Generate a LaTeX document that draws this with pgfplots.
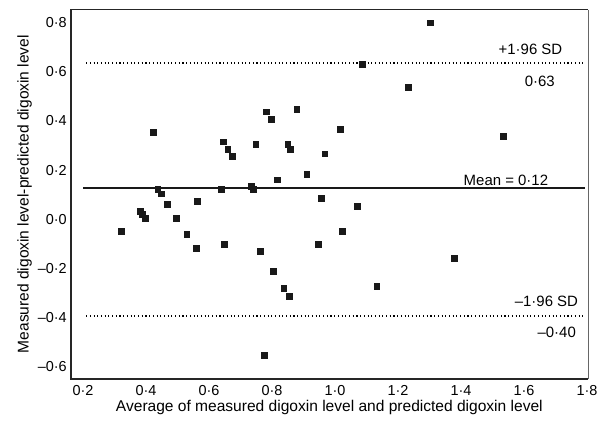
\documentclass[border=0pt]{standalone}
\usepackage{fontspec}
\setmainfont{Liberation Sans}
\usepackage{pgfplots}
\pgfplotsset{compat=1.18}

\newcommand{\tickfont}{\fontsize{14.5}{17}\selectfont}
\newcommand{\lblfont}{\fontsize{15.6}{18}\selectfont}
\newcommand{\txtfont}{\fontsize{15}{18}\selectfont}

\begin{document}
\begin{tikzpicture}
\begin{axis}[
  scale only axis,
  width=517bp, height=369bp,
  xmin=0.161, xmax=1.803, ymin=-0.655, ymax=0.847,
  xtick={0.2,0.4,0.6,0.8,1.0,1.2,1.4,1.6,1.8},
  xticklabels={0·2,0·4,0·6,0·8,1·0,1·2,1·4,1·6,1·8},
  ytick={-0.6,-0.4,-0.2,0,0.2,0.4,0.6,0.8},
  yticklabels={–0·6,–0·4,–0·2,0·0,0·2,0·4,0·6,0·8},
  major tick length=0pt,
  tick label style={font=\tickfont, black},
  xticklabel style={yshift=-3bp},
  yticklabel style={xshift=-0.5bp, yshift=-1.5bp},
  xlabel={Average of measured digoxin level and predicted digoxin level},
  ylabel={Measured digoxin level-predicted digoxin level},
  label style={font=\lblfont},
  xlabel style={yshift=2bp},
  ylabel style={yshift=-1bp},
  axis line style={draw=none},
  clip=false,
]
% frame
\draw[line width=1.8bp, black!85] (rel axis cs:1,1) -- (rel axis cs:0,1) -- (rel axis cs:0,0) -- (rel axis cs:1,0);
\draw[line width=0.8bp, black!60] (rel axis cs:1,0) -- (rel axis cs:1,1);

% limits of agreement and mean
\addplot[black, line width=1.6bp, dash pattern=on 1.1bp off 2.6bp] coordinates {(0.21,0.63) (1.795,0.63)};
\addplot[black, line width=1.6bp, dash pattern=on 1.1bp off 2.6bp] coordinates {(0.21,-0.40) (1.795,-0.40)};
\addplot[black!90, line width=2bp] coordinates {(0.2,0.12) (1.795,0.12)};

\addplot[only marks, mark=square*, mark size=2.9bp, black!90] coordinates {
  (0.322,-0.055) (0.381,0.026) (0.387,0.015) (0.397,-0.003)
  (0.423,0.348) (0.437,0.115) (0.448,0.098) (0.468,0.056)
  (0.496,-0.003) (0.529,-0.066) (0.558,-0.125) (0.563,0.067)
  (0.638,0.115) (0.644,0.309) (0.647,-0.107) (0.659,0.279)
  (0.673,0.249) (0.733,0.128) (0.740,0.117) (0.748,0.300)
  (0.762,-0.136) (0.775,-0.558) (0.782,0.431) (0.797,0.401)
  (0.803,-0.218) (0.817,0.155) (0.837,-0.288) (0.850,0.300)
  (0.855,-0.318) (0.857,0.279) (0.878,0.442) (0.910,0.178)
  (0.947,-0.107) (0.956,0.078) (0.967,0.260) (1.017,0.360)
  (1.022,-0.055) (1.071,0.046) (1.086,0.624) (1.132,-0.278)
  (1.233,0.530) (1.302,0.793) (1.377,-0.166) (1.533,0.330)
};

\node[anchor=east, font=\txtfont, inner sep=0pt] at (axis cs:1.722,0.685) {+1·96 SD};
\node[anchor=east, font=\txtfont, inner sep=0pt] at (axis cs:1.698,0.556) {0·63};
\node[anchor=east, font=\txtfont, inner sep=0pt] at (axis cs:1.677,0.153) {Mean = 0·12};
\node[anchor=east, font=\txtfont, inner sep=0pt] at (axis cs:1.772,-0.339) {–1·96 SD};
\node[anchor=east, font=\txtfont, inner sep=0pt] at (axis cs:1.765,-0.467) {–0·40};
\end{axis}
\pgfresetboundingbox
\path (current axis.south west) ++(-70.7bp,-45.5bp) coordinate (bl);
\path (current axis.north east) ++(9bp,9.5bp) coordinate (tr);
\useasboundingbox (bl) rectangle (tr);
\end{tikzpicture}
\end{document}
